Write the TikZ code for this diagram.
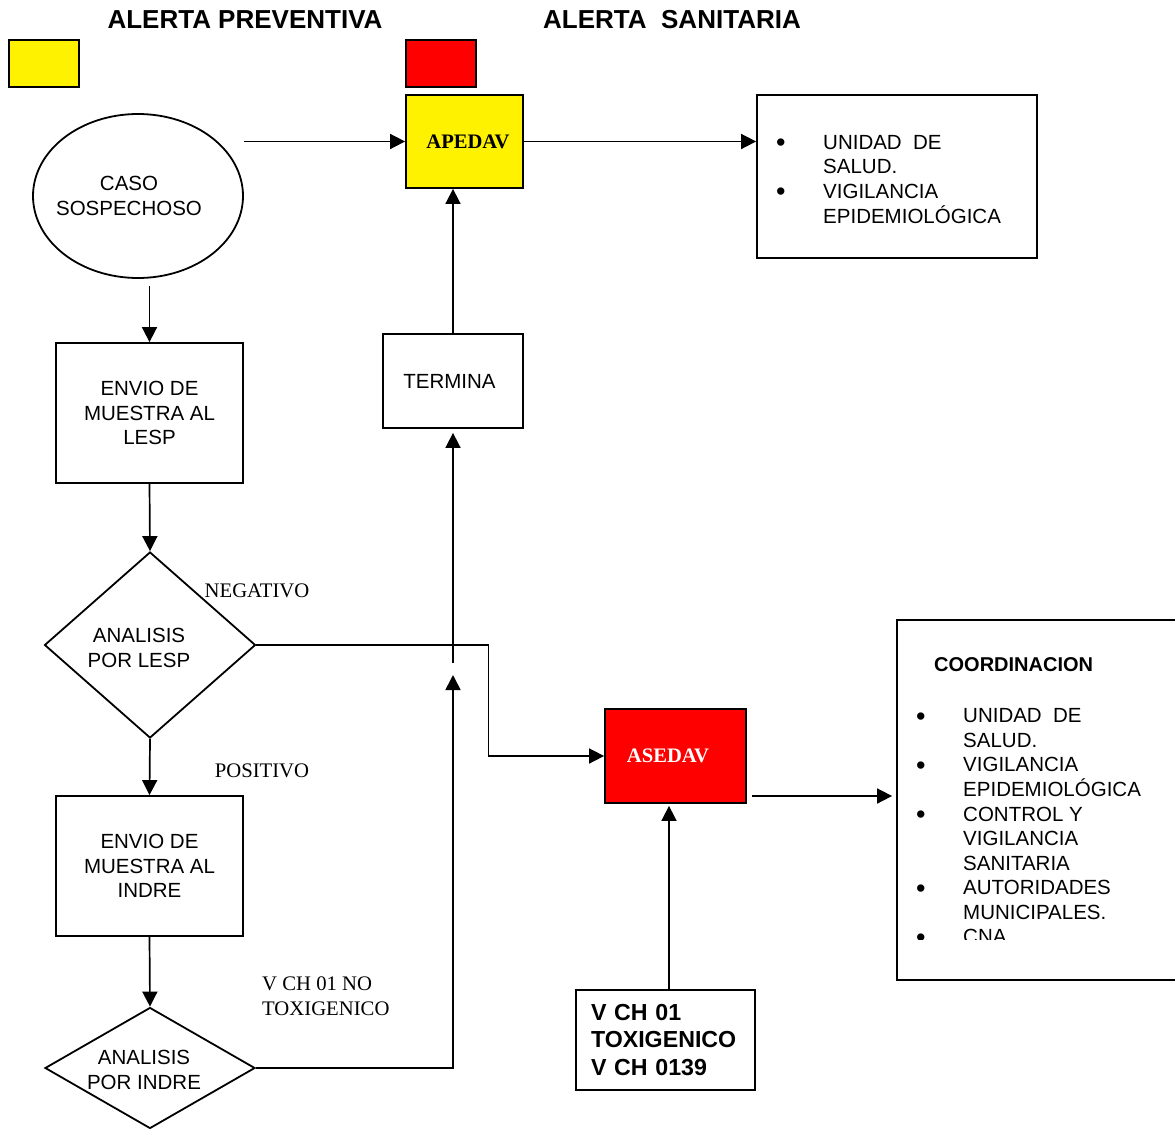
\documentclass[tikz,border=0pt]{standalone}
\usepackage{fontspec}
\setmainfont{Liberation Sans}
\newfontfamily\timesfont{Liberation Serif}
\usetikzlibrary{arrows.meta,shapes.geometric}

% list bullet
\newcommand\blt{\raisebox{-2.5pt}{\fontsize{27}{24.5}\selectfont\textbullet}}

\begin{document}
\begin{tikzpicture}[x=1pt,y=1pt,yscale=-1,
  every node/.style={font=\fontsize{20.5}{24.5}\selectfont, inner sep=0pt},
  box/.style={draw, line width=1.8pt, align=center},
  decision/.style={draw, diamond, line width=1.8pt},
  swatch/.style={draw, line width=1.8pt, minimum width=70, minimum height=47},
  title/.style={font=\bfseries\fontsize{26}{30}\selectfont},
  alert/.style={font=\timesfont\bfseries\fontsize{20.6}{24}\selectfont},
  lbl/.style={font=\timesfont\fontsize{20.7}{25}\selectfont, align=left},
  flow/.style={line width=1.7pt, -{Triangle[length=15pt,width=15pt]}},
]
\clip (0,0) rectangle (1175,1129);

% Text Node
\node[title] (titprev) at (245,20) {ALERTA PREVENTIVA};
% Text Node
\node[title] (titsan) at (672,20) {ALERTA\ \ SANITARIA};

%Shape: Rectangle
\node[swatch, fill=yellow] (swyellow) at (44,63.5) {};
%Shape: Rectangle
\node[swatch, fill=red] (swred) at (441,63.5) {};

%Shape: Ellipse
\node[draw, ellipse, line width=1.8pt, minimum width=210, minimum height=164] (caso) at (138,196) {};
% Text Node
\node[align=center] (casotxt) at ([xshift=-9]caso.center) {CASO\\SOSPECHOSO};
%Shape: Rectangle
\node[box, fill=yellow, minimum width=117, minimum height=93] (apedav) at (464.5,141.5) {};
% Text Node
\node[alert] (apedavtxt) at ([xshift=3.5]apedav.center) {APEDAV};
%Shape: Rectangle
\node[box, minimum width=280, minimum height=163] (epi) at (897,176.5) {};
% Text Node
\node[anchor=base west] (epilist) at (776,149.5) {\begin{tabular}[t]{@{}p{47pt}@{}l@{}}
\blt & UNIDAD\ \ DE\\
 & SALUD.\\
\blt & VIGILANCIA\\
 & EPIDEMIOLÓGICA
\end{tabular}};

%Shape: Rectangle
\node[box, minimum width=187, minimum height=140] (lesp) at (149.5,413) {ENVIO DE\\MUESTRA AL\\LESP};
%Shape: Rectangle
\node[box, minimum width=140, minimum height=94] (termina) at (453,381) {};
% Text Node
\node (terminatxt) at ([xshift=-3.5]termina.center) {TERMINA};
%Shape: Diamond
\node[decision, minimum width=211, minimum height=186, aspect=1.13] (dlesp) at (150,645) {};
% Text Node
\node[align=center] (dlesptxt) at (139,648) {ANALISIS\\POR LESP};
%Shape: Rectangle
\node[box, minimum width=187, minimum height=140] (indre) at (149.5,866) {ENVIO DE\\MUESTRA AL\\INDRE};
%Shape: Diamond
\node[decision, minimum width=210, minimum height=121, aspect=1.74] (dindre) at (150,1068) {};
% Text Node
\node[align=center] (dindretxt) at (144,1070) {ANALISIS\\POR INDRE};

%Shape: Rectangle
\node[box, fill=red, minimum width=141, minimum height=94] (asedav) at (675.5,756) {};
% Text Node
\node[alert, text=white] (asedavtxt) at ([xshift=-7.5]asedav.center) {ASEDAV};
%Shape: Rectangle
\node[box, align=left, text width=149, minimum width=179, minimum height=100,
  font=\bfseries\fontsize{23.2}{27.5}\selectfont] (vch) at (665.5,1040) {V CH 01\\TOXIGENICO\\V CH 0139};

%Shape: Rectangle (right side runs off the page)
\node[box, minimum width=290, minimum height=360] (coord) at (1042,800) {};
% Text Node
\node[anchor=west, font=\bfseries\fontsize{20}{24}\selectfont] (coordtit) at (934,665) {COORDINACION};
% Text Node, cut at the bottom of the frame
\begin{scope}
\clip (coord.north west) rectangle (1175,939);
\node[anchor=base west] (coordlist) at (916,722.5) {\begin{tabular}[t]{@{}p{47pt}@{}l@{}}
\blt & UNIDAD\ \ DE\\
 & SALUD.\\
\blt & VIGILANCIA\\
 & EPIDEMIOLÓGICA\\
\blt & CONTROL Y\\
 & VIGILANCIA\\
 & SANITARIA\\
\blt & AUTORIDADES\\
 & MUNICIPALES.\\
\blt & CNA
\end{tabular}};
\end{scope}

% Text Node
\node[lbl] (neg) at (257,591) {NEGATIVO};
% Text Node
\node[lbl] (pos) at (262,771) {POSITIVO};
% Text Node
\node[lbl, anchor=north west] (notox) at (262,977) {V CH 01 NO\\TOXIGENICO};

%Straight Lines
\draw[flow] (caso.east |- apedav.west) -- (apedav.west);
\draw[flow] (apedav.east) -- (apedav.east -| epi.west);
\draw[flow, shorten <=7pt] (lesp.north |- caso.south) -- (lesp.north);
\draw[flow] (lesp.south) -- (dlesp.north);
\draw[flow] (dlesp.south) -- (indre.north);
\draw[flow] (indre.south) -- (dindre.north);
\draw[flow] (dlesp.east) -- ++(232,0) |- (asedav.west);

% INDRE result back up to TERMINA
\coordinate (tipup) at (453,675);
\coordinate (gapup) at (453,663);
\draw[flow] (dindre.east) -| (tipup);
\draw[flow, shorten >=4pt] (gapup) -- (termina.south);
\draw[flow] (termina.north) -- (termina.north |- apedav.south);

\draw[flow, shorten >=2pt] ([xshift=3.5]vch.north) -- ([xshift=3.5]vch.north |- asedav.south);
\coordinate (asedout) at (752,796);
\draw[flow, shorten >=4pt] (asedout) -- (asedout -| coord.west);

\end{tikzpicture}
\end{document}
